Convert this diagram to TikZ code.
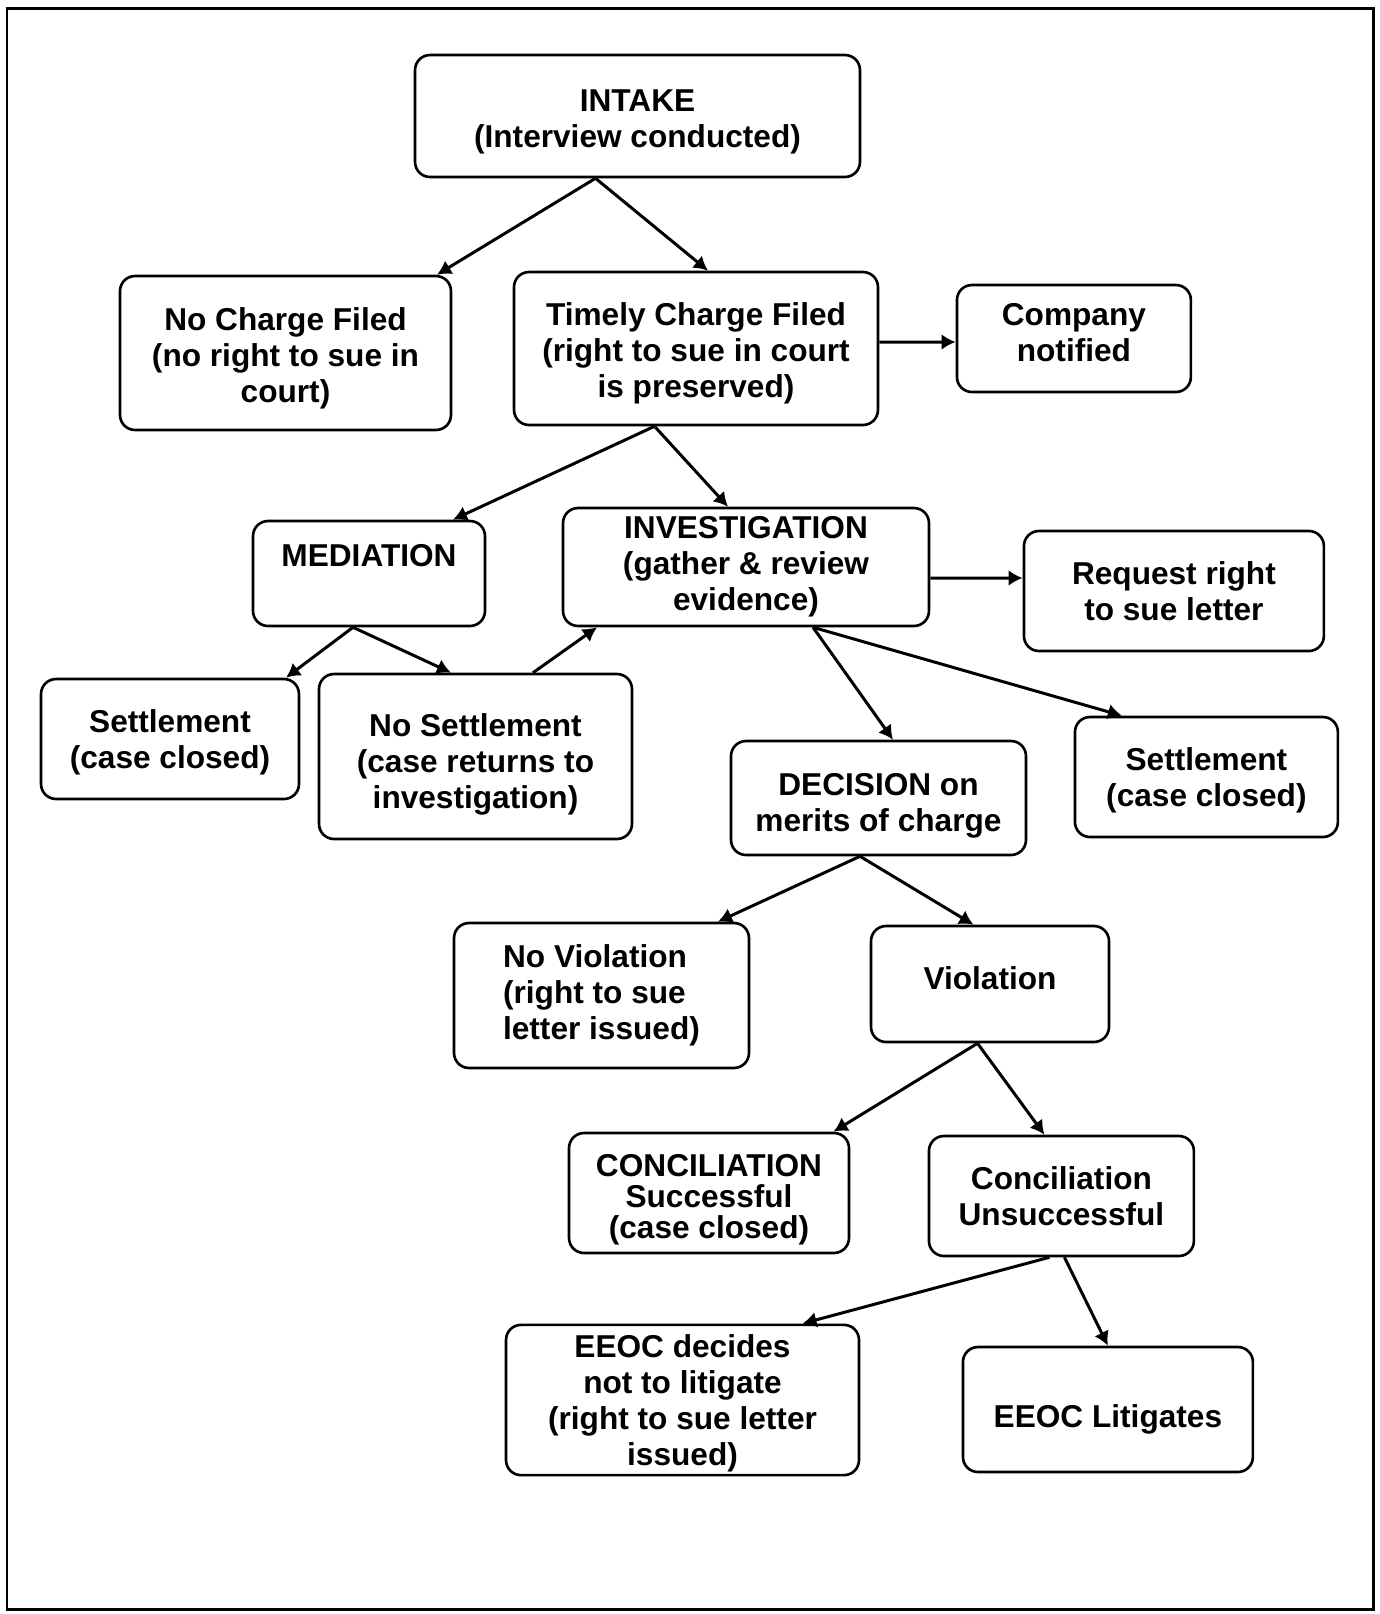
\documentclass[tikz,border=0pt]{standalone}
\usepackage{fontspec}
\setmainfont{Liberation Sans}
\usetikzlibrary{arrows.meta,shapes}

% struts to move a box text down (first line) or up (last line)
\newcommand{\sink}[1]{\rule{0pt}{#1}}
\newcommand{\lift}[1]{\rule[-#1]{0pt}{#1}}

\begin{document}
\begin{tikzpicture}[thick, x=0.02cm, y=-0.02cm, node distance=2cm, auto]

\tikzstyle{block} = [rectangle, draw, fill=white, align=center, rounded corners=0.3cm,
    line width=1.5pt, inner sep=2pt, font=\fontsize{18}{20.5}\selectfont\bfseries]
\tikzstyle{line} = [draw, line width=1.7pt, -{Latex[length=8pt,width=9pt]}]

    \useasboundingbox (0,0) rectangle (1380,1614);
    \draw [line width=1.7pt] (7,8) rectangle (1373,1609);

    % Place nodes
    \node [block, minimum width=8.9cm, minimum height=2.44cm] (intake) at (637.5,116) {\sink{18.6pt}INTAKE\\(Interview conducted)};
    \node [block, minimum width=6.62cm, minimum height=3.08cm] (nocharge) at (285.5,353) {\sink{18.6pt}No Charge Filed\\(no right to sue in\\court)};
    \node [block, minimum width=7.28cm, minimum height=3.06cm] (timely) at (696,348.5) {\sink{18.6pt}Timely Charge Filed\\(right to sue in court\\is preserved)};
    \node [block, right of=timely, node distance=7.56cm, yshift=0.2cm, minimum width=4.68cm, minimum height=2.14cm] (company) {Company\\notified\lift{6.8pt}};
    \node [block, minimum width=4.64cm, minimum height=2.1cm] (mediation) at (369,573.5) {MEDIATION\\~};
    \node [block, minimum width=7.32cm, minimum height=2.36cm] (invest) at (746,567) {INVESTIGATION\\(gather \& review\\evidence)};
    \node [block, right of=invest, node distance=8.56cm, yshift=-0.48cm, minimum width=6cm, minimum height=2.4cm] (request) {Request right\\to sue letter};
    \node [block, minimum width=5.16cm, minimum height=2.4cm] (settleleft) at (170,739) {\sink{16.3pt}Settlement\\(case closed)};
    \node [block, minimum width=6.26cm, minimum height=3.3cm] (nosettle) at (475.5,756.5) {\sink{21.9pt}No Settlement\\(case returns to\\investigation)};
    \node [block, minimum width=5.9cm, minimum height=2.28cm] (decision) at (878.5,798) {\sink{21.4pt}DECISION on\\merits of charge};
    \node [block, right of=decision, node distance=6.56cm, yshift=0.42cm, minimum width=5.26cm, minimum height=2.4cm] (settleright) {\sink{16.3pt}Settlement\\(case closed)};
    \node [block, align=left, minimum width=5.9cm, minimum height=2.9cm] (noviol) at (601.5,995.5) {No Violation\\(right to sue\\letter issued)};
    \node [block, minimum width=4.76cm, minimum height=2.32cm] (viol) at (990,984) {Violation\lift{6.8pt}};
    \node [block, minimum width=5.6cm, minimum height=2.4cm] (concok) at (709,1193) {\sink{20.4pt}CONCILIATION\\[-3pt]Successful\\[-3pt](case closed)};
    \node [block, right of=concok, node distance=7.05cm, yshift=-0.06cm, minimum width=5.3cm, minimum height=2.4cm] (concfail) {Conciliation\\Unsuccessful};
    \node [block, minimum width=7.06cm, minimum height=3cm] (nolitig) at (682.5,1400) {\sink{16.3pt}EEOC decides\\not to litigate\\(right to sue letter\\issued)};
    \node [block, right of=nolitig, node distance=8.51cm, yshift=-0.19cm, minimum width=5.8cm, minimum height=2.5cm] (litig) {\sink{24.3pt}EEOC Litigates};

    % Draw edges
    \path [line] ([xshift=-0.84cm]intake.south) -- ([xshift=3.03cm]nocharge.north);
    \path [line] ([xshift=-0.84cm]intake.south) -- ([xshift=0.24cm]timely.north);
    \path [line] ([yshift=0.13cm]timely.east) -- ([yshift=-0.07cm]company.west);
    \path [line] ([xshift=-0.83cm]timely.south) -- ([xshift=1.68cm]mediation.north);
    \path [line] ([xshift=-0.83cm]timely.south) -- ([xshift=-0.36cm]invest.north);
    \path [line] ([yshift=-0.22cm]invest.east) -- ([yshift=0.26cm]request.west);
    \path [line] ([xshift=-0.32cm]mediation.south) -- ([xshift=2.32cm]settleleft.north);
    \path [line] ([xshift=-0.32cm]mediation.south) -- ([xshift=-0.49cm]nosettle.north);
    \path [line] ([xshift=1.15cm]nosettle.north) -- ([xshift=-2.98cm]invest.south);
    \path [line] ([xshift=1.34cm]invest.south) -- ([xshift=0.29cm]decision.north);
    \path [line] ([xshift=1.34cm]invest.south) -- ([xshift=-1.69cm]settleright.north);
    \path [line] ([xshift=-0.37cm]decision.south) -- ([xshift=2.33cm]noviol.north);
    \path [line] ([xshift=-0.37cm]decision.south) -- ([xshift=-0.33cm]viol.north);
    \path [line] ([xshift=-0.25cm]viol.south) -- ([xshift=2.49cm]concok.north);
    \path [line] ([xshift=-0.25cm]viol.south) -- ([xshift=-0.34cm]concfail.north);
    \path [line] ([xshift=-0.24cm]concfail.south) -- ([xshift=2.4cm]nolitig.north);
    \path [line] ([xshift=0.06cm]concfail.south) -- (litig.north);
\end{tikzpicture}
\end{document}
